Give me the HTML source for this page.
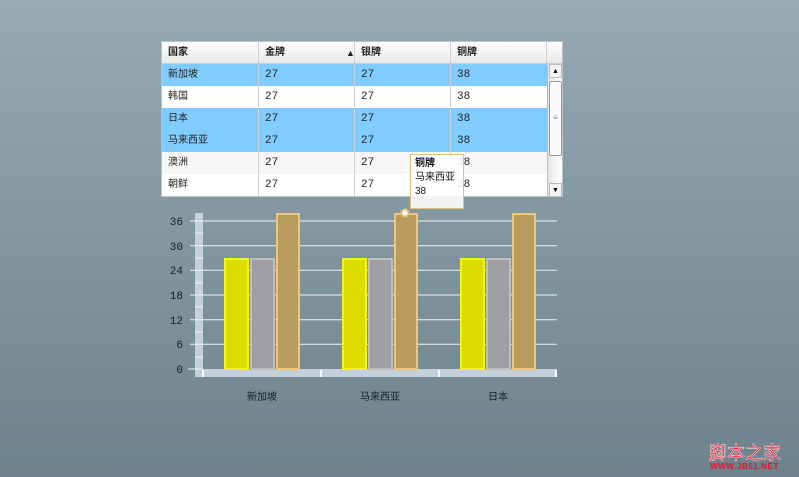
<!DOCTYPE html>
<html><head><meta charset="utf-8"><style>
*{margin:0;padding:0;box-sizing:border-box}
body{width:799px;height:477px;overflow:hidden;background:linear-gradient(#97aab3,#6d828c);font-family:"Liberation Sans","Noto Sans CJK SC",sans-serif;position:relative}
.t{position:absolute;left:161px;top:41px;width:402px;height:156px;background:#fff;border:1px solid #b7c3c9;overflow:hidden}
.r{position:absolute;left:0;width:385px;height:22px;font-size:10px;line-height:22px;color:#222}
.r span{position:absolute;top:0;padding-left:6px}
.r span.n{font-family:"Liberation Mono",monospace;font-size:11px}
.h{top:0;height:22px;background:linear-gradient(#fff,#e8e8e8);font-weight:bold;width:400px;border-bottom:1px solid #ccc}
.c{position:absolute;top:0;width:1px;height:156px;background:#d0d0d0}
.sb{position:absolute;left:385px;top:22px;width:15px;height:133px;background:linear-gradient(90deg,#e6e6e6,#fff);border-left:1px solid #bbb}
.tip{position:absolute;left:410px;top:154px;width:54px;height:55px;background:rgba(255,255,255,0.88);border:1px solid #e5c070;font-size:10px;line-height:14px;padding:2px 4px;color:#111}
</style></head><body>
<div class="t">
<div class="r h"><span style="left:0">国家</span><span style="left:97px">金牌</span><span style="left:178px;font-size:9px">▲</span><span style="left:193px">银牌</span><span style="left:289px">铜牌</span></div>
<div class="r" style="top:22px;background:#80ccff"><span style="left:0">新加坡</span><span class="n" style="left:97px">27</span><span class="n" style="left:193px">27</span><span class="n" style="left:289px">38</span></div>
<div class="r" style="top:44px"><span style="left:0">韩国</span><span class="n" style="left:97px">27</span><span class="n" style="left:193px">27</span><span class="n" style="left:289px">38</span></div>
<div class="r" style="top:66px;background:#80ccff"><span style="left:0">日本</span><span class="n" style="left:97px">27</span><span class="n" style="left:193px">27</span><span class="n" style="left:289px">38</span></div>
<div class="r" style="top:88px;background:#80ccff"><span style="left:0">马来西亚</span><span class="n" style="left:97px">27</span><span class="n" style="left:193px">27</span><span class="n" style="left:289px">38</span></div>
<div class="r" style="top:110px;background:#f6f6f6"><span style="left:0">澳洲</span><span class="n" style="left:97px">27</span><span class="n" style="left:193px">27</span><span class="n" style="left:289px">38</span></div>
<div class="r" style="top:132px"><span style="left:0">朝鲜</span><span class="n" style="left:97px">27</span><span class="n" style="left:193px">27</span><span class="n" style="left:289px">38</span></div>
<div class="c" style="left:96px"></div><div class="c" style="left:192px"></div><div class="c" style="left:288px"></div><div class="c" style="left:384px;height:22px"></div>
<div class="sb"><div style="position:absolute;left:1px;top:0;width:13px;height:14px;background:#f4f4f4;border:1px solid #bbb;font-size:7px;text-align:center;line-height:13px">▲</div>
<div style="position:absolute;left:1px;top:17px;width:13px;height:75px;background:#fafafa;border:1px solid #999;border-radius:2px;font-size:8px;text-align:center;line-height:72px;color:#888">≡</div>
<div style="position:absolute;left:1px;bottom:0;width:13px;height:14px;background:#f4f4f4;border:1px solid #bbb;font-size:7px;text-align:center;line-height:13px">▼</div></div>
</div>
<svg width="799" height="477" style="position:absolute;left:0;top:0" font-family="Liberation Mono, monospace">
<rect x="195" y="213" width="8" height="164" fill="#c5d1da"/>
<rect x="195" y="369" width="362" height="8" fill="#c5d1da"/>
<g stroke="#eef3f6" stroke-width="1">
<line x1="190" y1="221" x2="557" y2="221"/><line x1="190" y1="245.7" x2="557" y2="245.7"/><line x1="190" y1="270.3" x2="557" y2="270.3"/><line x1="190" y1="295" x2="557" y2="295"/><line x1="190" y1="319.7" x2="557" y2="319.7"/><line x1="190" y1="344.3" x2="557" y2="344.3"/>
<line x1="195" y1="233" x2="203" y2="233"/><line x1="195" y1="258" x2="203" y2="258"/><line x1="195" y1="283" x2="203" y2="283"/><line x1="195" y1="307" x2="203" y2="307"/><line x1="195" y1="332" x2="203" y2="332"/><line x1="195" y1="357" x2="203" y2="357"/>
</g>
<line x1="188" y1="369" x2="203" y2="369" stroke="#eef3f6"/>
<g stroke="#fff" stroke-width="2"><line x1="203" y1="370" x2="203" y2="377"/><line x1="321" y1="370" x2="321" y2="377"/><line x1="439" y1="370" x2="439" y2="377"/><line x1="556" y1="370" x2="556" y2="377"/></g>
<g font-size="11" fill="#122" text-anchor="end"><text x="183" y="225">36</text><text x="183" y="250">30</text><text x="183" y="274">24</text><text x="183" y="299">18</text><text x="183" y="324">12</text><text x="183" y="348">6</text><text x="183" y="373">0</text></g>
<g stroke-width="2">
<g><rect x="225" y="259" width="23" height="110" fill="#dcdc00" stroke="#f3f320"/><rect x="251" y="259" width="23" height="110" fill="#9d9fa3" stroke="#bdbfc2"/><rect x="277" y="214" width="22" height="155" fill="#ba9b5e" stroke="#f0c77a"/></g>
<g transform="translate(118,0)"><rect x="225" y="259" width="23" height="110" fill="#dcdc00" stroke="#f3f320"/><rect x="251" y="259" width="23" height="110" fill="#9d9fa3" stroke="#bdbfc2"/><rect x="277" y="214" width="22" height="155" fill="#ba9b5e" stroke="#f0c77a"/></g>
<g transform="translate(236,0)"><rect x="225" y="259" width="23" height="110" fill="#dcdc00" stroke="#f3f320"/><rect x="251" y="259" width="23" height="110" fill="#9d9fa3" stroke="#bdbfc2"/><rect x="277" y="214" width="22" height="155" fill="#ba9b5e" stroke="#f0c77a"/></g>
</g>
<circle cx="405" cy="213" r="3.5" fill="#fff" stroke="#e8c070" stroke-width="2"/>
<g font-size="10" fill="#122" text-anchor="middle" font-family="Liberation Sans, Noto Sans CJK SC, sans-serif"><text x="262" y="400">新加坡</text><text x="380" y="400">马来西亚</text><text x="498" y="400">日本</text></g>
<text x="709" y="459" font-size="18" fill="#e8102a" font-family="Noto Sans CJK SC, sans-serif" stroke="#fff" stroke-width="0.4">脚本之家</text>
<text x="710" y="469" font-size="8" fill="#e8102a" font-weight="bold" font-family="Liberation Sans, sans-serif" letter-spacing="0.6">WWW.JB51.NET</text>
</svg>
<div class="tip"><b>铜牌</b><br>马来西亚<br>38</div>
</body></html>
